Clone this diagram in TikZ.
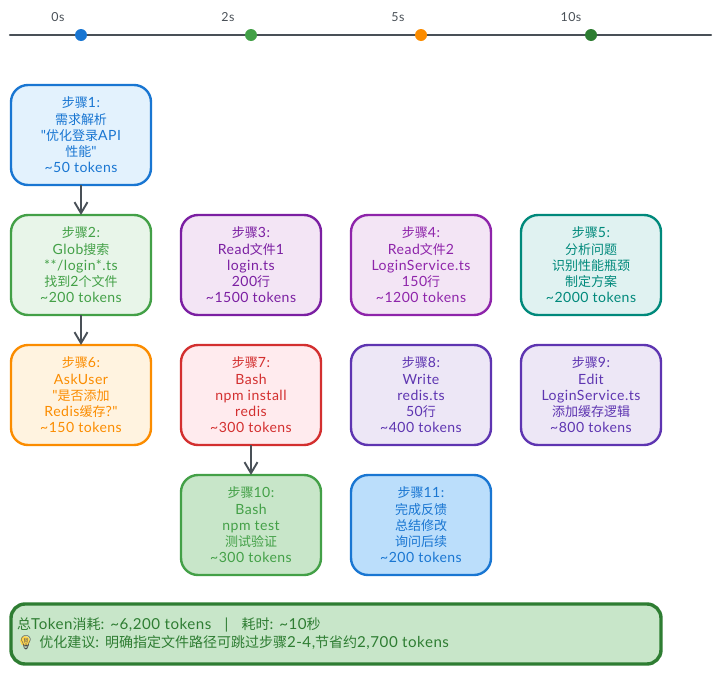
\documentclass[tikz,border=0pt]{standalone}
\usepackage{fontspec}
\setmainfont{Lato}[Scale=1.08,LetterSpace=3.5,Ligatures=TeXOff]
\newfontfamily\cjkfont{Noto Sans CJK SC}
\newfontfamily\emojifont{Noto Emoji}
\newcommand{\zh}[1]{{\cjkfont #1}}
\usetikzlibrary{arrows.meta}
\definecolor{cblue}{HTML}{1976D2}\definecolor{fblue}{HTML}{E3F2FD}\definecolor{gblue}{HTML}{BBDEFB}
\definecolor{cgreen}{HTML}{43A047}\definecolor{fgreen}{HTML}{E8F5E9}\definecolor{ggreen}{HTML}{C8E6C9}
\definecolor{cpurple}{HTML}{7B1FA2}\definecolor{dpurple}{HTML}{8E24AA}\definecolor{fpurple}{HTML}{F3E5F5}
\definecolor{cteal}{HTML}{00897B}\definecolor{fteal}{HTML}{E0F2F1}
\definecolor{corange}{HTML}{FB8C00}\definecolor{forange}{HTML}{FFF3E0}
\definecolor{cred}{HTML}{D32F2F}\definecolor{fred}{HTML}{FFEBEE}
\definecolor{cdeep}{HTML}{5E35B1}\definecolor{fdeep}{HTML}{EDE7F6}
\definecolor{cdark}{HTML}{2E7D32}\definecolor{cline}{HTML}{495057}
\definecolor{bulb}{HTML}{FFD54F}
\tikzset{
  stepbox/.style n args={2}{draw=#1,fill=#2,text=#1,line width=2.4pt,rounded corners=17pt,
    minimum width=140pt,minimum height=100pt,inner sep=0pt,outer sep=0pt,align=center,
    font=\fontsize{13}{16.25}\selectfont,execute at end node={\vspace{1.5pt}}},
  flow/.style={draw=cline,line width=2.2pt,-{Straight Barb[length=11pt,width=13pt,line width=1.9pt]}},
  axis/.style={draw=cline,line width=2.3pt,line cap=round},
  tick/.style={circle,fill=#1,draw=none,minimum size=12pt,inner sep=0pt},
  ticklabel/.style={text=cline,font=\fontsize{11.5}{14}\selectfont,inner sep=0pt},
  summary/.style={draw=cdark,fill=ggreen,line width=3.4pt,rounded corners=14pt,
    minimum width=650pt,minimum height=60pt,inner sep=0pt},
  summarytext/.style={text=cdark,align=left,inner sep=0pt,font=\fontsize{14}{18}\selectfont},
  bulbglow/.style={circle,fill=bulb,draw=none,minimum size=10pt,inner sep=0pt}
}
\begin{document}
\begin{tikzpicture}[x=1pt,y=-1pt]
\useasboundingbox (0,0) rectangle (721,675);
% timeline
\coordinate (tl) at (10,35);
\coordinate (tr) at (711,35);
\draw[axis] (tl) -- (tr);
\node[tick=cblue] (t0) at (81,35) {};
\node[tick=cgreen] (t2) at (251,35) {};
\node[tick=corange] (t5) at (421,35) {};
\node[tick=cdark] (t10) at (591,35) {};
\node[ticklabel] (l0) at (58,17) {0s};
\node[ticklabel] (l2) at (228,17) {2s};
\node[ticklabel] (l5) at (398,17) {5s};
\node[ticklabel] (l10) at (571,17) {10s};
% row 1
\node[stepbox={cblue}{fblue}] (s1) at (81,135) {\zh{步骤}1:\\\zh{需求解析}\\"\zh{优化登录}API\\\zh{性能}"\\\textasciitilde50 tokens};
% row 2
\node[stepbox={cgreen}{fgreen}] (s2) at (81,265) {\zh{步骤}2:\\Glob\zh{搜索}\\**/login*.ts\\\zh{找到}2\zh{个文件}\\\textasciitilde200 tokens};
\node[stepbox={cpurple}{fpurple}] (s3) at (251,265) {\zh{步骤}3:\\Read\zh{文件}1\\login.ts\\200\zh{行}\\\textasciitilde1500 tokens};
\node[stepbox={dpurple}{fpurple}] (s4) at (421,265) {\zh{步骤}4:\\Read\zh{文件}2\\LoginService.ts\\150\zh{行}\\\textasciitilde1200 tokens};
\node[stepbox={cteal}{fteal}] (s5) at (591,265) {\zh{步骤}5:\\\zh{分析问题}\\\zh{识别性能瓶颈}\\\zh{制定方案}\\\textasciitilde2000 tokens};
% row 3
\node[stepbox={corange}{forange}] (s6) at (81,395) {\zh{步骤}6:\\AskUser\\"\zh{是否添加}\\Redis\zh{缓存}?"\\\textasciitilde150 tokens};
\node[stepbox={cred}{fred}] (s7) at (251,395) {\zh{步骤}7:\\Bash\\npm install\\redis\\\textasciitilde300 tokens};
\node[stepbox={cdeep}{fdeep}] (s8) at (421,395) {\zh{步骤}8:\\Write\\redis.ts\\50\zh{行}\\\textasciitilde400 tokens};
\node[stepbox={cdeep}{fdeep}] (s9) at (591,395) {\zh{步骤}9:\\Edit\\LoginService.ts\\\zh{添加缓存逻辑}\\\textasciitilde800 tokens};
% row 4
\node[stepbox={cgreen}{ggreen}] (s10) at (251,525) {\zh{步骤}10:\\Bash\\npm test\\\zh{测试验证}\\\textasciitilde300 tokens};
\node[stepbox={cblue}{gblue}] (s11) at (421,525) {\zh{步骤}11:\\\zh{完成反馈}\\\zh{总结修改}\\\zh{询问后续}\\\textasciitilde200 tokens};
% connectors
\draw[flow] (s1) -- (s2);
\draw[flow] (s2) -- (s6);
\draw[flow] (s7) -- (s10);
% summary
\node[summary] (sum) at (336,634) {};
\node[bulbglow] (glow) at (25,641) {};
\node[summarytext,anchor=west] (sumtext) at (17,634) {\zh{总}Token\zh{消耗}: \textasciitilde6,200 tokens\ \ \ |\ \ \ \zh{耗时}: \textasciitilde10\zh{秒}\\{\emojifont\textcolor{black!70}{💡}}\ \zh{优化建议}: \zh{明确指定文件路径可跳过步骤}2-4,\zh{节省约}2,700 tokens};
\end{tikzpicture}
\end{document}
